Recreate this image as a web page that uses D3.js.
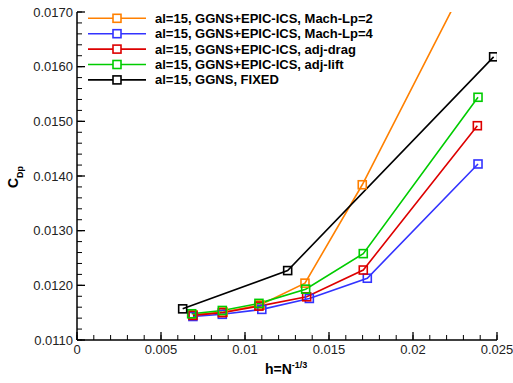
<!DOCTYPE html>
<html><head><meta charset="utf-8">
<script src="https://cdn.jsdelivr.net/npm/d3@7"></script>
<style>body{margin:0;background:#fff}svg{display:block}text{font-family:"Liberation Sans",Arial,sans-serif}</style>
</head><body><svg id="c" width="513" height="383"></svg>
<script>
const seriesNames = ["al=15, GGNS+EPIC-ICS, Mach-Lp=2","al=15, GGNS+EPIC-ICS, Mach-Lp=4","al=15, GGNS+EPIC-ICS, adj-drag","al=15, GGNS+EPIC-ICS, adj-lift","al=15, GGNS, FIXED"];
const seriesColors = ["#ff8000","#3333ff","#dd0000","#00cc00","#000000"];
const hMach2 = [0.0069,0.0087,0.0109,0.01357,0.01698,0.0239];
const cdMach2 = [0.01146,0.01151,0.01164,0.01204,0.01384,0.01799];
const hMach4 = [0.0069,0.00865,0.0110,0.01383,0.01728,0.02387];
const cdMach4 = [0.01143,0.01147,0.01156,0.01176,0.01213,0.01422];
const hDrag = [0.0069,0.00865,0.01083,0.01367,0.01704,0.02383];
const cdDrag = [0.01145,0.0115,0.01162,0.01179,0.01228,0.01492];
const hLift = [0.006825,0.00865,0.01083,0.01361,0.01704,0.02387];
const cdLift = [0.01148,0.01154,0.01167,0.01193,0.01258,0.01544];
const hFixed = [0.00629,0.01254,0.0248];
const cdFixed = [0.01157,0.01227,0.01618];
const xTicks = [0,0.005,0.01,0.015,0.02,0.025];
const xTickLabels = ["0","0.005","0.01","0.015","0.02","0.025"];
const yTicks = [0.011,0.012,0.013,0.014,0.015,0.016,0.017];
const yTickLabels = ["0.0110","0.0120","0.0130","0.0140","0.0150","0.0160","0.0170"];

const series = [[hMach2,cdMach2],[hMach4,cdMach4],[hDrag,cdDrag],[hLift,cdLift],[hFixed,cdFixed]];
const svg = d3.select("#c");
const L=77,R=497,T=12,B=340;
const x = d3.scaleLinear().domain([0,0.025]).range([L,R]);
const y = d3.scaleLinear().domain([0.011,0.017]).range([B,T]);

svg.append("defs").append("clipPath").attr("id","clip").append("rect")
  .attr("x",L).attr("y",T).attr("width",R-L).attr("height",B-T);

// axes
const xMinor = d3.range(0,0.02501,0.001);
const yMinor = d3.range(0.011,0.01701,0.0002);
const ax = svg.append("g");
ax.selectAll(".xm").data(xMinor).join("line").attr("x1",d=>x(d)).attr("x2",d=>x(d)).attr("y1",B).attr("y2",B-5).attr("stroke","#000").attr("stroke-width",1);
ax.selectAll(".xM").data(xTicks).join("line").attr("x1",d=>x(d)).attr("x2",d=>x(d)).attr("y1",B).attr("y2",B-8).attr("stroke","#000").attr("stroke-width",1.3);
ax.selectAll(".ym").data(yMinor).join("line").attr("y1",d=>y(d)).attr("y2",d=>y(d)).attr("x1",L).attr("x2",L+5).attr("stroke","#000").attr("stroke-width",1);
ax.selectAll(".yM").data(yTicks).join("line").attr("y1",d=>y(d)).attr("y2",d=>y(d)).attr("x1",L).attr("x2",L+8).attr("stroke","#000").attr("stroke-width",1.3);
ax.append("line").attr("x1",L).attr("x2",R).attr("y1",B).attr("y2",B).attr("stroke","#000").attr("stroke-width",1.5);
ax.append("line").attr("x1",L).attr("x2",L).attr("y1",T).attr("y2",B).attr("stroke","#000").attr("stroke-width",1.5);
ax.selectAll(".xl").data(xTicks).join("text").attr("x",d=>x(d)).attr("y",B+14).attr("text-anchor","middle").attr("font-size",13).attr("fill","#222").text((d,i)=>xTickLabels[i]);
ax.selectAll(".yl").data(yTicks).join("text").attr("x",L-4).attr("y",d=>y(d)+4.5).attr("text-anchor","end").attr("font-size",13).attr("fill","#222").text((d,i)=>yTickLabels[i]);

// axis titles
const xt = svg.append("text").attr("x",265).attr("y",374).attr("font-size",14).attr("font-weight","bold");
xt.append("tspan").text("h=N");
xt.append("tspan").attr("dy",-6).attr("font-size",9).text("-1/3");
const yt = svg.append("text").attr("transform","translate(18,177) rotate(-90)").attr("font-size",14).attr("font-weight","bold").attr("text-anchor","middle");
yt.append("tspan").text("C");
yt.append("tspan").attr("dy",5).attr("font-size",9).text("Dp");

// data
const plot = svg.append("g").attr("clip-path","url(#clip)");
const line = d3.line().x(d=>x(d[0])).y(d=>y(d[1]));
series.forEach((s,i)=>{
  const pts = s[0].map((h,j)=>[h,s[1][j]]);
  plot.append("path").attr("d",line(pts)).attr("fill","none").attr("stroke",seriesColors[i]).attr("stroke-width",1.6);
});
series.forEach((s,i)=>{
  const pts = s[0].map((h,j)=>[h,s[1][j]]);
  plot.selectAll(null).data(pts).join("rect").attr("x",d=>x(d[0])-4).attr("y",d=>y(d[1])-4).attr("width",8).attr("height",8)
    .attr("fill","none").attr("stroke",seriesColors[i]).attr("stroke-width",1.6);
});

// legend
const lg = svg.append("g");
seriesNames.forEach((n,i)=>{
  const yy = 18.3 + i*15.4;
  lg.append("line").attr("x1",88).attr("x2",146).attr("y1",yy).attr("y2",yy).attr("stroke",seriesColors[i]).attr("stroke-width",1.6);
  lg.append("rect").attr("x",113).attr("y",yy-4).attr("width",8).attr("height",8).attr("fill","#fff").attr("stroke",seriesColors[i]).attr("stroke-width",1.6);
  lg.append("text").attr("x",155).attr("y",yy+4.5).attr("font-size",13).attr("font-weight","bold").text(n);
});
</script></body></html>
